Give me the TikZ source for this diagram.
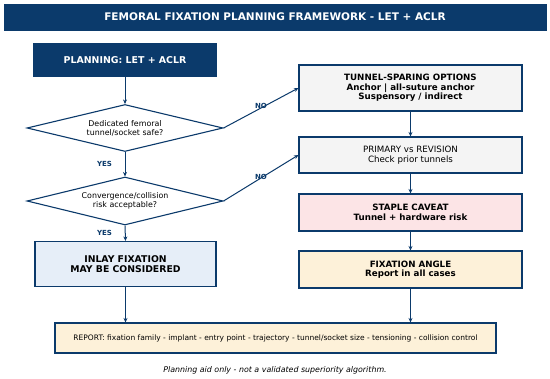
\documentclass[tikz,border=0pt]{standalone}
\usepackage{fontspec}
\setmainfont{DejaVu Sans}
\usetikzlibrary{arrows.meta,shapes.geometric}
\definecolor{navy}{HTML}{0B3A6B}
\definecolor{greyfill}{HTML}{F4F4F4}
\definecolor{pinkfill}{HTML}{FCE4E6}
\definecolor{creamfill}{HTML}{FDF1D9}
\definecolor{bluefill}{HTML}{E6EEF8}
\tikzset{
  px/.style={x=1pt,y=-1pt},
  boxstyle/.style={draw=navy,line width=1.1pt,align=center,inner sep=0pt,text=black},
  dec/.style={draw=navy,line width=1.1pt,diamond,aspect=4.1,inner sep=0pt,align=center,font=\fontsize{7.9}{9}\selectfont},
  conn/.style={draw=navy,line width=1pt,-{Stealth[length=4.5pt,width=4pt]}},
  lbl/.style={text=navy,font=\fontsize{7}{8}\bfseries\selectfont}
}
\begin{document}
\begin{tikzpicture}[px]
\useasboundingbox (0,0) rectangle (550,379);
\fill[white] (0,0) rectangle (550,379);
% title
\node[fill=navy,draw=navy,minimum width=542pt,minimum height=26pt,inner sep=0pt,text=white,font=\fontsize{10.5}{12}\bfseries\selectfont] (title) at (275,17) {FEMORAL FIXATION PLANNING FRAMEWORK - LET + ACLR};
% left column
\node[boxstyle,fill=navy,draw=navy,text=white,minimum width=183pt,minimum height=32pt,font=\fontsize{9.4}{10.5}\bfseries\selectfont] (plan) at (125,60) {PLANNING: LET + ACLR};
\node[dec,minimum width=196pt,minimum height=47pt] (d1) at (125,128) {Dedicated femoral\\tunnel/socket safe?};
\node[dec,minimum width=196pt,minimum height=48pt] (d2) at (125,201) {Convergence/collision\\risk acceptable?};
\node[boxstyle,fill=bluefill,minimum width=181pt,minimum height=45pt,font=\fontsize{9.3}{10}\bfseries\selectfont] (inlay) at (125.5,264) {INLAY FIXATION\\MAY BE CONSIDERED};
% right column
\node[boxstyle,fill=greyfill,minimum width=223pt,minimum height=46pt,font=\fontsize{8.7}{9.6}\bfseries\selectfont] (tun) at (410.5,88) {TUNNEL-SPARING OPTIONS\\Anchor | all-suture anchor\\Suspensory / indirect};
\node[boxstyle,fill=greyfill,minimum width=223pt,minimum height=36pt,font=\fontsize{8.7}{9.6}\selectfont] (prim) at (410.5,155) {PRIMARY vs REVISION\\Check prior tunnels};
\node[boxstyle,fill=pinkfill,minimum width=223pt,minimum height=37pt,font=\fontsize{8.7}{9.6}\bfseries\selectfont] (staple) at (410.5,212.5) {STAPLE CAVEAT\\Tunnel + hardware risk};
\node[boxstyle,fill=creamfill,minimum width=223pt,minimum height=37pt,font=\fontsize{8.7}{9.6}\bfseries\selectfont] (angle) at (410.5,269.5) {FIXATION ANGLE\\Report in all cases};
% report
\node[boxstyle,fill=creamfill,minimum width=441pt,minimum height=30pt,font=\fontsize{7.5}{9}\selectfont] (report) at (275.5,338) {REPORT: fixation family - implant - entry point - trajectory - tunnel/socket size - tensioning - collision control};
\node[font=\fontsize{7.9}{9}\itshape\selectfont,inner sep=0pt] (foot) at (275,370) {Planning aid only - not a validated superiority algorithm.};
% connectors
\draw[conn] (plan.south) -- (d1.north);
\draw[conn] (d1.south) -- (d2.north);
\draw[conn] (d2.south) -- (inlay.north);
\draw[conn] (inlay.south) -- (inlay.south |- report.north);
\draw[conn] (angle.south) -- (angle.south |- report.north);
\draw[conn] (tun.south) -- (prim.north);
\draw[conn] (prim.south) -- (staple.north);
\draw[conn] (staple.south) -- (angle.north);
\draw[conn] (d1.east) -- (tun.west);
\draw[conn] (d2.east) -- (prim.west);
% labels
\node[lbl] (y1) at (104.5,164) {YES};
\node[lbl] (y2) at (104.5,233) {YES};
\node[lbl] (n1) at (261,106) {NO};
\node[lbl] (n2) at (261,177) {NO};
\end{tikzpicture}
\end{document}
